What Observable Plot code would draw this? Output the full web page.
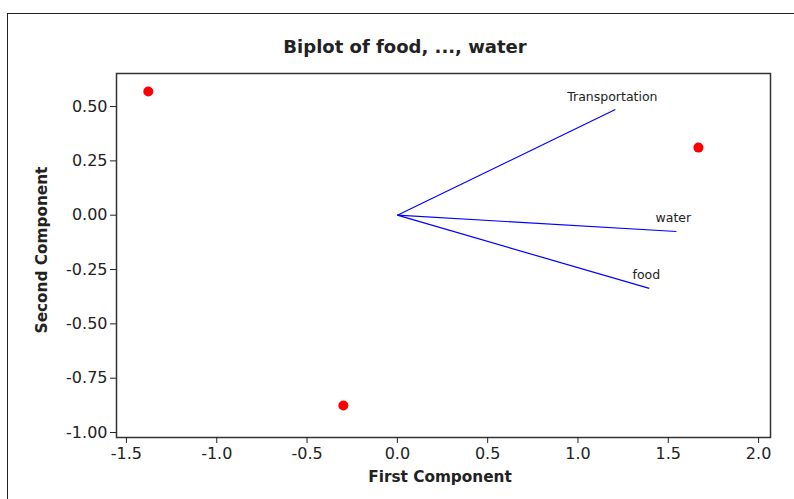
<!DOCTYPE html>
<html><head><meta charset="utf-8">
<script src="https://cdn.jsdelivr.net/npm/d3@7"></script>
<script src="https://cdn.jsdelivr.net/npm/@observablehq/plot@0.6"></script>
<style>
body{margin:0;background:#fff;font-family:"DejaVu Sans",Verdana,sans-serif;}
#wrap{position:relative;width:794px;height:499px;overflow:hidden;background:#fff}
#border{position:absolute;left:7px;top:13px;width:820px;height:540px;border:1.5px solid #222;box-sizing:border-box}
#title{position:absolute;left:7px;width:796px;top:36px;text-align:center;font-weight:bold;font-size:18px;color:#222;line-height:22px}
#xlab{position:absolute;left:340px;width:200px;top:467px;text-align:center;font-weight:bold;font-size:15.3px;color:#222;line-height:20px}
#ylab{position:absolute;left:42px;top:250px;width:200px;margin-left:-100px;margin-top:-10px;text-align:center;font-weight:bold;font-size:15.3px;color:#222;line-height:20px;transform:rotate(-90deg)}
#chart{position:absolute;left:0;top:0}
</style></head>
<body>
<div id="wrap">
  <div id="border"></div>
  <div id="chart"></div>
  <div id="title">Biplot of food, ..., water</div>
  <div id="xlab">First Component</div>
  <div id="ylab">Second Component</div>
</div>
<script>
const scoreX = [-1.379, 1.667, -0.299];
const scoreY = [0.569, 0.311, -0.876];
const varNames = ["Transportation", "water", "food"];
const loadX = [1.207, 1.545, 1.395];
const loadY = [0.486, -0.075, -0.337];
const xTicks = [-1.5, -1.0, -0.5, 0.0, 0.5, 1.0, 1.5, 2.0];
const yTicks = [0.5, 0.25, 0.0, -0.25, -0.5, -0.75, -1.0];

const scores = scoreX.map((x, i) => ({x, y: scoreY[i]}));
const vars = varNames.map((name, i) => ({name, x: loadX[i], y: loadY[i]}));
const fx = v => d3.format(".1f")(v).replace("−", "-");
const fy = v => d3.format(".2f")(v).replace("−", "-");

const plot = Plot.plot({
  width: 794, height: 499,
  marginLeft: 116, marginRight: 24, marginTop: 73, marginBottom: 62,
  style: {background: "transparent", color: "#222", fontFamily: '"DejaVu Sans", Verdana, sans-serif'},
  x: {domain: [-1.555, 2.066]},
  y: {domain: [-1.023, 0.652]},
  marks: [
    Plot.link(vars, {x1: () => 0, y1: () => 0, x2: "x", y2: "y", stroke: "#0000ff", strokeWidth: 1.2}),
    Plot.dot(scores, {x: "x", y: "y", r: 5, fill: "#ff0000", stroke: null}),
    Plot.text(vars, {x: "x", y: "y", text: "name", dy: -13, dx: -3, fontSize: 12.5, fill: "#222"}),
    Plot.frame({stroke: "#333", strokeWidth: 1.5}),
    Plot.axisX({ticks: xTicks, tickFormat: fx, tickSize: 6, tickPadding: 4, fontSize: 16, label: null}),
    Plot.axisY({ticks: yTicks, tickFormat: fy, tickSize: 6, tickPadding: 3, fontSize: 16, label: null})
  ]
});
document.getElementById("chart").appendChild(plot);
</script>
</body></html>
